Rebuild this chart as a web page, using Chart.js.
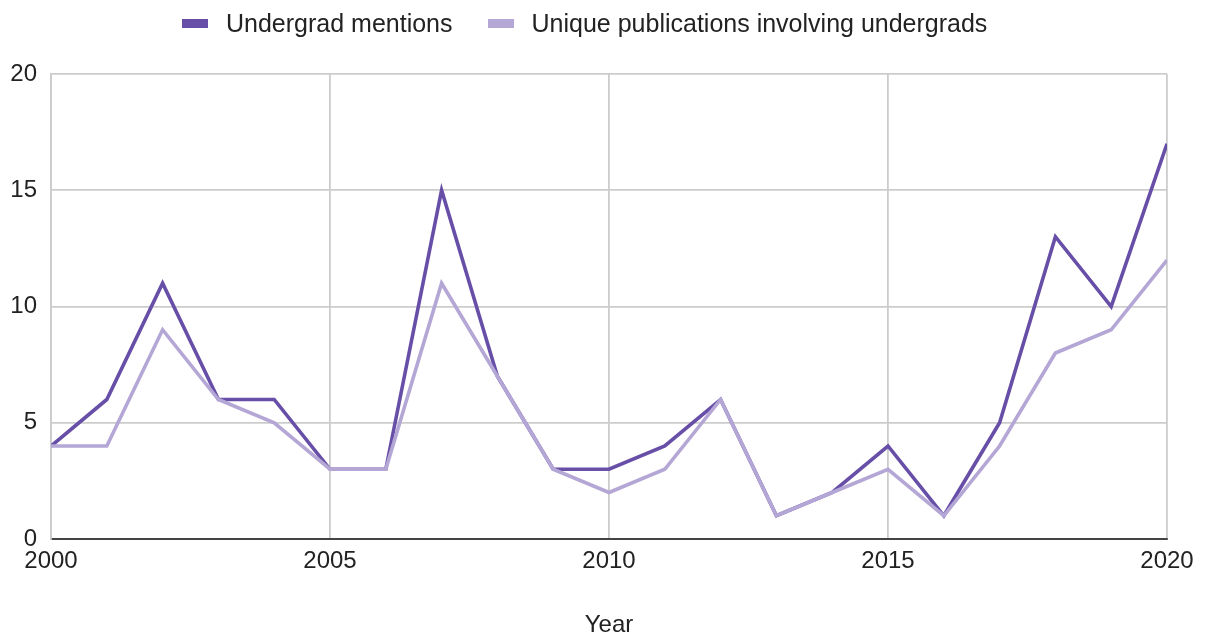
<!DOCTYPE html>
<html><head><meta charset="utf-8">
<script src="https://cdn.jsdelivr.net/npm/chart.js@4/dist/chart.umd.min.js"></script>
<style>
html,body{margin:0;padding:0;background:#fff;}
#wrap{position:relative;width:1209px;height:641px;}
#legend{position:absolute;top:8px;left:182px;height:30px;display:flex;align-items:center;font-family:"Liberation Sans",Arial,sans-serif;font-size:25px;color:#222;white-space:nowrap;}
.item{display:flex;align-items:center;}
.sw{width:26px;height:9px;margin-right:18px;display:inline-block;}
</style></head>
<body>
<div id="wrap">
<canvas id="c" width="1209" height="641"></canvas>
<div id="legend"></div>
</div>
<script>
const years = [2000,2001,2002,2003,2004,2005,2006,2007,2008,2009,2010,2011,2012,2013,2014,2015,2016,2017,2018,2019,2020];
const undergradMentions = [4,6,11,6,6,3,3,15,7,3,3,4,6,1,2,4,1,5,13,10,17];
const uniquePublications = [4,4,9,6,5,3,3,11,7,3,2,3,6,1,2,3,1,4,8,9,12];
const seriesNames = ['Undergrad mentions','Unique publications involving undergrads'];
const seriesColors = ['#674ea7','#b4a7d6'];
const xTitle = 'Year';

// HTML legend
const lg = document.getElementById('legend');
seriesNames.forEach((n,i)=>{
  const it = document.createElement('div'); it.className='item';
  if(i>0) it.style.marginLeft='35px';
  const sw = document.createElement('span'); sw.className='sw'; sw.style.background=seriesColors[i];
  const tx = document.createElement('span'); tx.textContent=n;
  it.appendChild(sw); it.appendChild(tx); lg.appendChild(it);
});

Chart.defaults.font.family = '"Liberation Sans", Arial, sans-serif';
Chart.defaults.font.size = 24;
Chart.defaults.color = '#222';

const toXY = arr => years.map((y,i)=>({x:y,y:arr[i]}));

new Chart(document.getElementById('c'), {
  type:'line',
  data:{datasets:[
    {label:seriesNames[0],data:toXY(undergradMentions),borderColor:seriesColors[0],backgroundColor:seriesColors[0],borderWidth:3.6,pointRadius:0,tension:0,order:2},
    {label:seriesNames[1],data:toXY(uniquePublications),borderColor:seriesColors[1],backgroundColor:seriesColors[1],borderWidth:3.6,pointRadius:0,tension:0,order:1}
  ]},
  options:{
    responsive:false,animation:false,devicePixelRatio:1,
    layout:{padding:{top:74,left:0,right:42,bottom:0}},
    plugins:{legend:{display:false},tooltip:{enabled:false}},
    scales:{
      x:{type:'linear',min:2000,max:2020,
        ticks:{stepSize:5,padding:8,callback:v=>String(v),maxRotation:0},
        grid:{color:'#cccccc',lineWidth:1.8,drawTicks:false},
        border:{display:true,color:'#444',width:2},
        title:{display:true,text:xTitle,padding:{top:0,bottom:1}},
        afterFit:s=>{s.height=102;}
      },
      y:{min:0,max:20,
        ticks:{stepSize:5,padding:14},
        grid:{color:c=>c.tick && c.tick.value===0?'#444':'#cccccc',lineWidth:c=>c.tick && c.tick.value===0?2:1.8,drawTicks:false},
        border:{display:true,color:'#cccccc',width:1.8},
        afterFit:s=>{s.width=51;}
      }
    }
  }
});
</script>
</body></html>
